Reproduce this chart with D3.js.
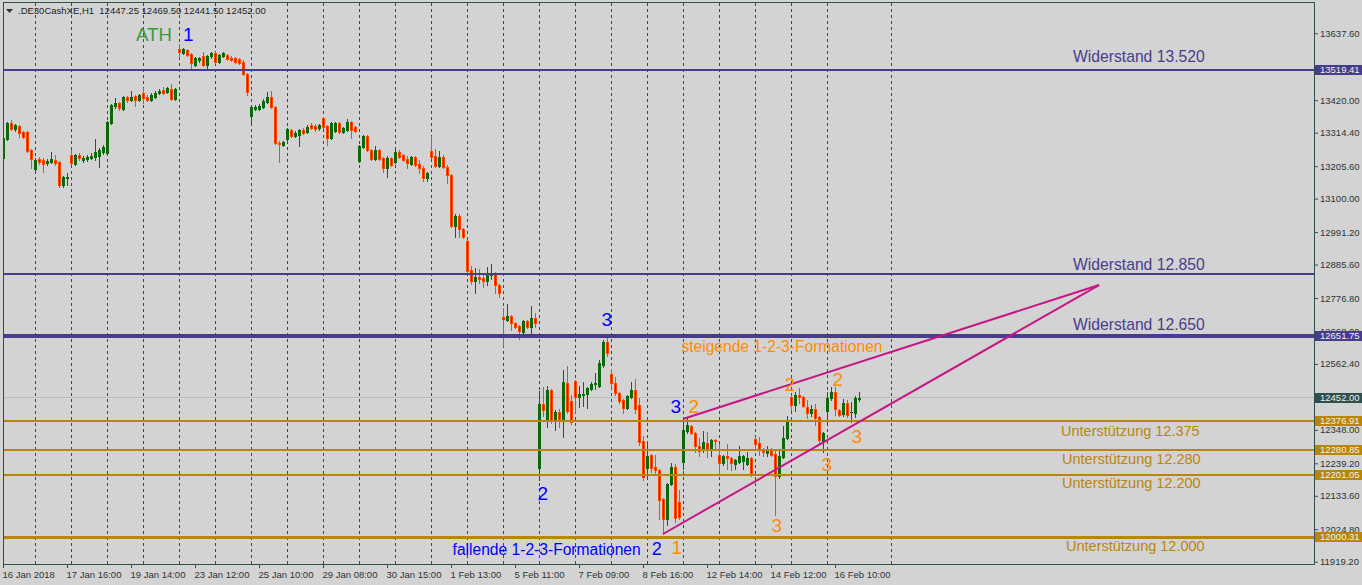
<!DOCTYPE html>
<html><head><meta charset="utf-8">
<script src="https://cdn.jsdelivr.net/npm/d3@7"></script>
<style>html,body{margin:0;padding:0;background:#d3d3d3;overflow:hidden}svg{display:block}</style>
</head><body><svg id="c" width="1362" height="585"></svg>
<script>
// ---------- DATA ----------
const symbolTitle = ".DE30CashXE,H1  12447.25 12469.50 12441.50 12452.00";
const opens = [13232,13293,13345,13326,13336,13316,13316,13258,13196,13228,13225,13215,13219,13225,13219,13144,13167,13241,13212,13241,13225,13228,13232,13235,13238,13251,13248,13345,13401,13410,13391,13430,13420,13433,13420,13443,13430,13420,13430,13443,13452,13446,13456,13423,13586,13573,13582,13569,13534,13550,13563,13534,13563,13573,13543,13563,13566,13556,13556,13553,13543,13504,13368,13391,13391,13397,13414,13430,13397,13280,13274,13293,13323,13303,13306,13323,13316,13339,13336,13329,13362,13336,13297,13319,13345,13316,13323,13349,13332,13222,13267,13303,13258,13228,13258,13232,13199,13232,13219,13251,13241,13228,13212,13235,13212,13199,13167,13254,13238,13206,13235,13202,13176,13011,13043,13001,12962,12868,12832,12845,12842,12832,12852,12858,12819,12715,12705,12718,12696,12686,12666,12702,12683,12712,12224.5,12432,12384,12478,12380,12406,12384,12501,12442,12507,12455,12462,12465,12481,12497,12491,12559,12634,12530,12501,12468,12445,12419,12455,12478,12429,12312,12224.5,12267,12228,12218,12124,12059,12173,12228,12114,12244,12345,12361,12338,12296,12286,12306,12286,12316,12267,12241,12264,12257,12238,12244,12247,12238,12257,12319,12306,12286,12273,12286,12270,12199,12260,12322,12455,12429,12462,12455,12423,12403,12416,12390,12312,12410,12452,12471,12413,12400,12436,12405,12403,12447.25];
const highs = [13306,13349,13355,13342,13339,13319,13319,13261,13232,13235,13232,13228,13251,13241,13222,13173,13183,13258,13245,13248,13238,13241,13248,13293,13264,13274,13352,13407,13427,13414,13433,13433,13449,13436,13440,13459,13436,13443,13449,13456,13462,13462,13472,13459,13602,13589,13586,13573,13560,13560,13576,13566,13576,13576,13569,13576,13569,13563,13560,13556,13550,13508,13404,13404,13407,13423,13446,13449,13401,13287,13287,13329,13326,13319,13326,13329,13339,13345,13342,13342,13365,13339,13349,13349,13349,13332,13358,13352,13336,13274,13306,13306,13261,13271,13261,13235,13238,13235,13267,13258,13245,13238,13238,13238,13225,13206,13186,13303,13261,13254,13241,13209,13180,13050,13050,13004,12965,12881,12874,12871,12858,12878,12887,12861,12822,12744,12757,12722,12699,12689,12705,12705,12751,12728,12475,12488,12491,12481,12413,12416,12543,12556,12462,12510,12491,12504,12488,12504,12533,12575,12640,12657,12546,12520,12471,12449,12462,12504,12514,12452,12328,12302,12270,12267,12221,12127,12176,12241,12238,12153,12387,12387,12364,12342,12322,12345,12342,12319,12319,12303,12267,12303,12260,12254,12296,12267,12277,12260,12325,12325,12290,12296,12290,12283,12280,12361,12394,12462,12471,12484,12458,12445,12429,12432,12394,12342,12471,12488,12488,12416,12449,12445,12439,12458,12469.5];
const lows = [13222,13290,13323,13319,13300,13297,13251,13199,13193,13212,13186,13209,13215,13209,13137,13137,13144,13212,13209,13225,13219,13222,13228,13225,13202,13245,13245,13342,13394,13388,13388,13414,13417,13401,13417,13410,13417,13417,13427,13440,13440,13443,13420,13420,13560,13569,13563,13517,13530,13543,13530,13524,13556,13540,13540,13560,13550,13547,13540,13537,13501,13436,13342,13388,13388,13394,13410,13394,13277,13219,13271,13290,13300,13300,13271,13310,13313,13326,13319,13323,13329,13274,13293,13316,13313,13313,13319,13297,13316,13219,13264,13254,13225,13225,13225,13186,13170,13206,13215,13232,13222,13199,13209,13206,13183,13157,13157,13232,13202,13202,13199,13150,13007,12975,12975,12972,12861,12822,12793,12826,12813,12819,12839,12793,12780,12621,12702,12673,12679,12644,12657,12679,12663,12683,12186,12393,12358,12371,12348,12358,12325,12403,12367,12406,12423,12426,12419,12478,12481,12488,12553,12588,12484,12462,12436,12403,12416,12452,12403,12299,12186,12189,12212,12205,12059,12010,12039,12169,12049,12059,12221,12338,12335,12277,12264,12277,12260,12264,12286,12205,12234,12221,12218,12221,12241,12221,12234,12199,12286,12267,12264,12264,12264,12072,12192,12257,12319,12413,12410,12436,12423,12387,12394,12364,12306,12277,12368,12445,12397,12394,12394,12390,12374,12390,12441.5];
const closes = [13297,13345,13326,13339,13313,13300,13254,13228,13225,13219,13212,13222,13228,13215,13144,13170,13170,13215,13241,13232,13232,13235,13238,13251,13258,13267,13349,13404,13410,13394,13430,13420,13430,13420,13436,13427,13420,13436,13443,13449,13443,13459,13423,13456,13576,13586,13566,13540,13556,13556,13534,13563,13573,13543,13566,13573,13553,13550,13543,13540,13504,13446,13397,13397,13401,13417,13430,13397,13280,13277,13284,13326,13303,13313,13323,13313,13332,13329,13326,13339,13332,13297,13345,13345,13316,13329,13349,13323,13319,13271,13303,13258,13228,13258,13228,13199,13232,13209,13251,13235,13225,13215,13235,13209,13199,13167,13183,13235,13206,13235,13202,13176,13011,13043,13001,12975,12865,12832,12845,12839,12832,12855,12858,12819,12793,12709,12718,12696,12683,12670,12702,12683,12712,12696,12432,12413,12478,12380,12406,12384,12504,12410,12374,12455,12465,12465,12484,12497,12501,12566,12634,12598,12501,12468,12442,12419,12458,12478,12416,12309,12195,12264,12225,12218,12121,12059,12173,12228,12062,12065,12348,12364,12338,12296,12280,12309,12286,12316,12312,12241,12264,12257,12241,12251,12264,12264,12257,12208,12303,12283,12277,12286,12267,12199,12264,12322,12381,12429,12462,12455,12426,12403,12416,12387,12316,12338,12452,12471,12416,12397,12436,12397,12407,12452,12452];

// time axis (bar index of labelled bars) and day separators
const timeTickBars = [0,16,32,48,64,80,96,112,128,144,160,176,192,208];
const timeTickLabels = ["16 Jan 2018","17 Jan 16:00","19 Jan 14:00","23 Jan 12:00","25 Jan 10:00","29 Jan 08:00","30 Jan 15:00","1 Feb 13:00","5 Feb 11:00","7 Feb 09:00","8 Feb 16:00","12 Feb 14:00","14 Feb 12:00","16 Feb 10:00"];
const daySeparatorBars = [8,17,26,35,44,53,62,71,80,89,98,107,116,125,134,143,152,161,170,179,188,197,206,222];

// price axis
const priceTicks = [13637.60,13420.00,13314.40,13205.60,13100.00,12991.20,12885.60,12776.80,12668.00,12562.40,12348.00,12239.20,12133.60,12024.80,11919.20];

// horizontal levels
const levelPrices = [13519.41,12855,12651.75,12376.91,12280.85,12201.05,12000.31];
const levelKinds  = ["res","res","resMain","sup","sup","sup","supMain"];
const levelTagged = [true,false,true,true,true,true,true];
const bidPrice = 12452.00;

// trend lines (bar index, price)
const trendStartBars = [165,170];
const trendStartPrices = [12009.3,12383.3];
const trendEndBars = [274,274];
const trendEndPrices = [12819.0,12819.0];

// annotations (anchor bar index, baseline price)
const annoTexts = ["ATH","1","3","2","3","2","2","2","3","3","3","2","1","fallende 1-2-3-Formationen","steigende 1-2-3-Formationen","Widerstand 13.520","Widerstand 12.850","Widerstand 12.650","Unterstützung 12.375","Unterstützung 12.280","Unterstützung 12.200","Unterstützung 12.000"];
const annoBars = [33.25,45,149.6,133.6,166.9,171.4,195.4,207.4,212.1,204.6,192.1,162.2,167.1,112.4,169.6,267.5,267.5,267.5,264.5,264.75,264.75,265.75];
const annoPrices = [13612.6,13612.6,12685.7,12119.8,12402.8,12401.2,12474.3,12490.6,12305.2,12214.2,12015.8,11941.0,11944.3,11941.0,12601.2,13544.3,12867.8,12672.7,12329.6,12238.5,12160.5,11955.6];
const annoKinds = ["ath","blue","blue","blue","blue","orange","orange","orange","orange","orange","orange","blueBold","orange","blueText","orangeText","res","res","res","sup","sup","sup","sup"];

// ---------- STYLE ----------
const FONT = "'Liberation Sans', Arial, sans-serif";
const C = {bg:"#d3d3d3", frame:"#2f4f4f", axisText:"#2b3535", bull:"#0a6a0a", bearEdge:"#ff4500", bearFill:"#ff0000",
  res:"#483d8b", sup:"#b8860b", trend:"#c71585", bid:"#bcbcbc", blue:"#0000ff", orange:"#ff8c00", green:"#3a9a3a"};
const levelStyle = {res:{c:C.res,w:2}, resMain:{c:C.res,w:4}, sup:{c:C.sup,w:2}, supMain:{c:C.sup,w:3}};
const annoStyle = {
  ath:{c:C.green,s:18.6,w:"normal"}, blue:{c:C.blue,s:19,w:"normal"}, orange:{c:C.orange,s:19,w:"normal"},
  blueBold:{c:C.blue,s:18,w:"normal"}, blueText:{c:C.blue,s:15.6,w:"normal"}, orangeText:{c:C.orange,s:15.6,w:"normal"},
  res:{c:C.res,s:15.7,w:"normal"}, sup:{c:C.sup,s:14.5,w:"normal"}};

// ---------- SCALES ----------
const L=3, T=2, R=1314, B=564;
const x = d3.scaleLinear().domain([0,214]).range([3,859]);
const y = d3.scaleLinear().domain([11919.2,13637.6]).range([561.7,33.3]);

const svg = d3.select("#c");
svg.append("rect").attr("width",1362).attr("height",585).attr("fill",C.bg);
svg.append("clipPath").attr("id","clip").append("rect").attr("x",L+1).attr("y",T+1).attr("width",R-L-1).attr("height",B-T-1);
const g = svg.append("g").attr("clip-path","url(#clip)");

// day separators
g.append("g").selectAll("line").data(daySeparatorBars).join("line")
  .attr("x1",d=>Math.round(x(d))+0.5).attr("x2",d=>Math.round(x(d))+0.5)
  .attr("y1",T+1).attr("y2",B).attr("stroke",C.frame).attr("stroke-width",1)
  .attr("stroke-dasharray","3,3").attr("shape-rendering","crispEdges");

// bid line
g.append("line").attr("x1",L).attr("x2",R).attr("y1",Math.round(y(bidPrice))-0.5).attr("y2",Math.round(y(bidPrice))-0.5)
  .attr("stroke",C.bid).attr("stroke-width",1).attr("shape-rendering","crispEdges");

// candles
const idx = d3.range(opens.length);
const cg = g.append("g").attr("shape-rendering","crispEdges");
idx.forEach(i=>{
  const cx = Math.round(x(i));
  const up = closes[i] >= opens[i];
  const col = up ? C.bull : C.bearEdge;
  const yh = Math.round(y(highs[i])), yl = Math.round(y(lows[i]));
  cg.append("line").attr("x1",cx+0.5).attr("x2",cx+0.5).attr("y1",yh).attr("y2",yl+1).attr("stroke",col).attr("stroke-width",1);
  const yt = Math.round(y(Math.max(opens[i],closes[i]))), yb = Math.round(y(Math.min(opens[i],closes[i])));
  const h = Math.max(1, yb-yt+1);
  cg.append("rect").attr("x",cx-1).attr("y",yt).attr("width",3).attr("height",h).attr("fill",col);
  if(!up && h>2){
    cg.append("rect").attr("x",cx).attr("y",yt+1).attr("width",1).attr("height",h-2).attr("fill",C.bearFill);
  }
});

// level lines
levelPrices.forEach((p,i)=>{
  const st = levelStyle[levelKinds[i]];
  const yy = Math.round(y(p));
  g.append("rect").attr("x",L).attr("width",R-L).attr("y",yy-Math.floor(st.w/2)).attr("height",st.w)
   .attr("fill",st.c).attr("shape-rendering","crispEdges");
});

// trend lines
trendStartBars.forEach((b,i)=>{
  g.append("line").attr("x1",x(b)).attr("y1",y(trendStartPrices[i])).attr("x2",x(trendEndBars[i])).attr("y2",y(trendEndPrices[i]))
   .attr("stroke",C.trend).attr("stroke-width",2);
});

// annotations
annoTexts.forEach((t,i)=>{
  const st = annoStyle[annoKinds[i]];
  g.append("text").attr("x",x(annoBars[i])).attr("y",y(annoPrices[i])).text(t)
   .attr("font-family",FONT).attr("font-size",st.s).attr("font-weight",st.w).attr("fill",st.c);
});

// frame
svg.append("rect").attr("x",L+0.5).attr("y",T+0.5).attr("width",R-L).attr("height",B-T)
  .attr("fill","none").attr("stroke",C.frame).attr("stroke-width",1).attr("shape-rendering","crispEdges");

// price axis
const yAxis = d3.axisRight(y).tickValues(priceTicks).tickFormat(d3.format(".2f")).tickSize(4).tickPadding(2);
const ya = svg.append("g").attr("transform",`translate(${R},0)`).call(yAxis);
ya.select(".domain").remove();
ya.selectAll(".tick line").attr("stroke",C.frame);
ya.selectAll(".tick text").attr("fill",C.axisText).attr("font-family",FONT).attr("font-size",9.5).attr("x",6);

// time axis
const xAxis = d3.axisBottom(x).tickValues(timeTickBars).tickFormat((d,i)=>timeTickLabels[i]).tickSize(4).tickPadding(3);
const xa = svg.append("g").attr("transform",`translate(0,${B})`).call(xAxis);
xa.select(".domain").remove();
xa.selectAll(".tick line").attr("stroke",C.frame);
xa.selectAll(".tick text").attr("fill",C.axisText).attr("font-family",FONT).attr("font-size",9.5)
  .attr("text-anchor","start").attr("x",-1);

// price tags
const tagColor = k => (k.startsWith("res") ? C.res : C.sup);
const tags = levelPrices.map((p,i)=>({p, c:tagColor(levelKinds[i]), on:levelTagged[i]})).filter(d=>d.on);
tags.push({p:bidPrice, c:C.frame});
const tg = svg.append("g");
tags.forEach(d=>{
  const yy = Math.round(y(d.p));
  tg.append("rect").attr("x",R+1).attr("y",yy-5).attr("width",1362-R-1).attr("height",10).attr("fill",d.c).attr("shape-rendering","crispEdges");
  tg.append("text").attr("x",R+6).attr("y",yy).attr("dy","0.35em").text(d3.format(".2f")(d.p))
    .attr("fill","#f0f0f0").attr("font-family",FONT).attr("font-size",9.5);
});

// title
svg.append("path").attr("d","M6,9 L13,9 L9.5,13 Z").attr("fill","#333");
svg.append("text").attr("x",18).attr("y",13.5).text(symbolTitle).attr("xml:space","preserve").style("white-space","pre")
  .attr("fill","#1e1e1e").attr("font-family",FONT).attr("font-size",9.5);
</script>
</body></html>
